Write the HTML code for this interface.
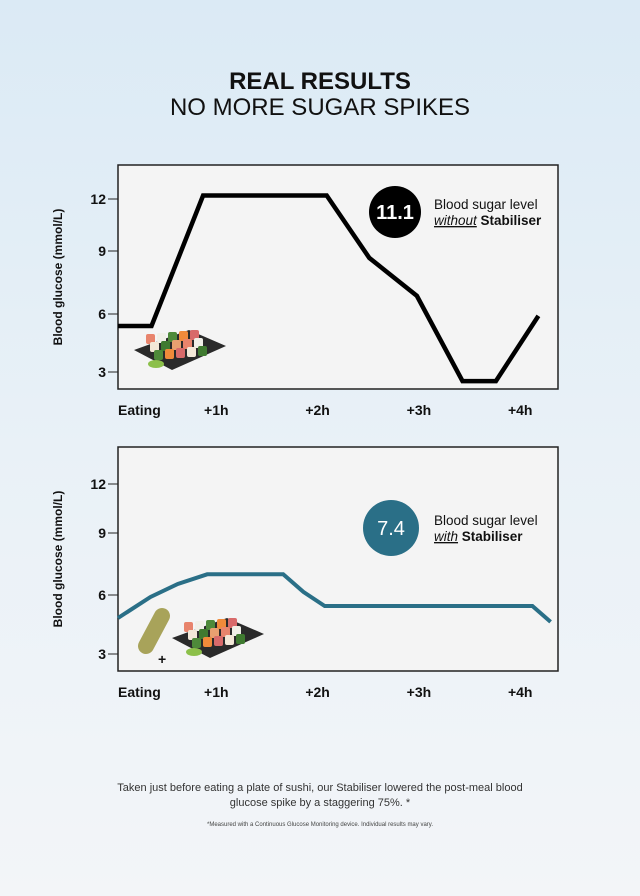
<!DOCTYPE html>
<html><head><meta charset="utf-8"><style>
html,body{margin:0;padding:0;width:640px;height:896px;overflow:hidden}
body{background:linear-gradient(#dbeaf5 0%,#e9f1f7 50%,#f3f5f8 100%);font-family:"Liberation Sans",sans-serif}
svg{display:block}
</style></head><body>
<svg id="s" width="640" height="896">
<text x="320" y="89" text-anchor="middle" font-size="24" font-weight="bold" fill="#111">REAL RESULTS</text>
<text x="320" y="115" text-anchor="middle" font-size="24" fill="#111">NO MORE SUGAR SPIKES</text>
<g id="c1"></g>
<g id="c2"></g>
<text x="320" y="791" text-anchor="middle" font-size="11" fill="#333">Taken just before eating a plate of sushi, our Stabiliser lowered the post-meal blood</text>
<text x="320" y="806" text-anchor="middle" font-size="11" fill="#333">glucose spike by a staggering 75%. *</text>
<text x="320" y="826" text-anchor="middle" font-size="6" fill="#444">*Measured with a Continuous Glucose Monitoring device. Individual results may vary.</text>
</svg>
<script>
const yTicks=[12,9,6,3];
const xLabels=["Eating","+1h","+2h","+3h","+4h"];
const xLabelHours=[0,1,2,3,4];
const t1=[0.03,0.36,0.87,2.09,2.51,2.98,3.43,3.76,4.18];
const v1=[5.38,5.38,12.2,12.2,8.67,6.86,2.53,2.53,5.9];
const t2=[0.03,0.35,0.62,0.91,1.66,1.86,2.07,4.12,4.30];
const v2=[4.83,5.9,6.53,7.0,7.0,6.15,5.44,5.44,4.63];
const NS="http://www.w3.org/2000/svg";
function mk(p,tag,a){const e=document.createElementNS(NS,tag);for(const k in a)e.setAttribute(k,a[k]);p.appendChild(e);return e;}
function xs(t){return 115+101.3*t;}
function makeY(pos){
  return v=>{const T=yTicks;
    if(v>=T[0])return pos[0]-(v-T[0])/3*(pos[1]-pos[0]);
    for(let i=0;i<3;i++){if(v>=T[i+1]){return pos[i]+(T[i]-v)/3*(pos[i+1]-pos[i]);}}
    return pos[3]+(T[3]-v)/3*(pos[3]-pos[2]);};
}
function sushi(g,x,y){
  mk(g,'path',{d:`M${x} ${y+12} L${x+55} ${y-8} L${x+92} ${y+8} L${x+38} ${y+32} Z`,fill:'#2a2a2a'});
  const cols=['#e8846c','#f0f0e8','#4e8a3a','#f08a3a','#d86a6a','#f3e8d8','#3f7a30','#e8a070'];
  for(let r=0;r<3;r++)for(let c=0;c<5;c++){
    mk(g,'rect',{x:x+12+c*11+r*4,y:y+r*8-4+c*(-1),width:9,height:10,rx:2,fill:cols[(r*5+c)%cols.length]});}
  mk(g,'ellipse',{cx:x+22,cy:y+26,rx:8,ry:4,fill:'#8cc04a'});
}
function chart(id,top,pos,ts,vs,color,val,circ,l2a){
  const g=document.getElementById(id);
  const y=makeY(pos);
  const frame=mk(g,'rect',{x:118,y:top,width:440,height:224,fill:'#f4f4f4',stroke:'#222','stroke-width':1.5});
  
  
  const yt=mk(g,'text',{x:62,y:top+112,'font-size':12,'font-weight':'bold',fill:'#111','text-anchor':'middle',transform:`rotate(-90 62 ${top+112})`});
  yt.textContent=id==='c1'?'Blood glucose  (mmol/L)':'Blood glucose (mmol/L)';
  
  
  yTicks.forEach(v=>{
    const ty=y(v);
    mk(g,'line',{x1:108,x2:118,y1:ty,y2:ty,stroke:'#222','stroke-width':1});
    const t=mk(g,'text',{x:106,y:ty+5,'text-anchor':'end','font-size':14,'font-weight':'bold',fill:'#111'});
    t.textContent=v;
    
    
  });
  xLabels.forEach((l,i)=>{
    const t=mk(g,'text',{x:i===0?118:xs(xLabelHours[i]),y:top+250,'text-anchor':i===0?'start':'middle','font-size':14,'font-weight':'bold',fill:'#111'});
    t.textContent=l;
    
    
  });
  const img=mk(g,'g',{});
  
  
  if(id==='c1'){sushi(img,134,338);}
  else{
    mk(img,'rect',{x:146,y:606,width:16,height:50,rx:8,fill:'#a8a35a',transform:'rotate(28 154 631)'});
    const p=mk(img,'text',{x:158,y:664,'font-size':14,'font-weight':'bold',fill:'#111'});p.textContent='+';
    sushi(img,172,626);
  }
  const d=ts.map((t,i)=>(i?'L':'M')+xs(t).toFixed(1)+' '+y(vs[i]).toFixed(1)).join(' ');
  const line=mk(g,'path',{d:d,fill:'none',stroke:color,'stroke-width':id==='c1'?4.5:4,'stroke-linejoin':'miter'});
  
  
  const c=mk(g,'circle',{cx:circ[0],cy:circ[1],r:circ[2],fill:color});
  
  
  const ct=mk(g,'text',{x:circ[0],y:circ[1]+7,'text-anchor':'middle','font-size':20,fill:'#fff','font-weight':id==='c1'?'bold':'normal'});
  ct.textContent=val;
  const t1e=mk(g,'text',{x:434,y:circ[1]-3,'font-size':13.5,fill:'#111'});t1e.textContent='Blood sugar level';
  
  
  const t2e=mk(g,'text',{x:434,y:circ[1]+13,'font-size':13.5,fill:'#111'});
  const a=mk(t2e,'tspan',{'font-style':'italic','text-decoration':'underline'});a.textContent=l2a;
  const b=mk(t2e,'tspan',{'font-weight':'bold'});b.textContent=' Stabiliser';
}
chart('c1',165,[199,251,314,372],t1,v1,'#000','11.1',[395,212,26],'without');
chart('c2',447,[484,533,595,654],t2,v2,'#2a6f87','7.4',[391,528,28],'with');
</script>
</body></html>
